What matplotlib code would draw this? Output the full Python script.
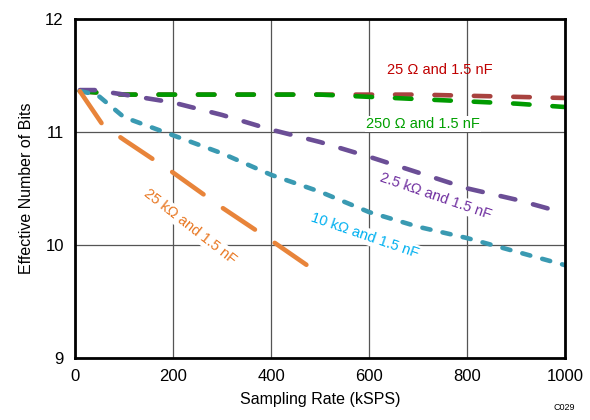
import matplotlib
matplotlib.use('Agg')
import matplotlib.pyplot as plt

plt.rcParams['font.family'] = ['Liberation Sans', 'DejaVu Sans']

# data (kSPS, ENOB)
x_red = [10, 100, 200, 300, 400, 500, 600, 700, 800, 900, 1000]
y_red = [11.36, 11.33, 11.33, 11.33, 11.33, 11.33, 11.33, 11.33, 11.32, 11.31, 11.30]

x_green = [10, 100, 200, 300, 400, 500, 600, 700, 800, 900, 1000]
y_green = [11.36, 11.33, 11.33, 11.33, 11.33, 11.33, 11.31, 11.29, 11.27, 11.25, 11.22]

x_purple = [10, 40, 100, 200, 300, 400, 500, 600, 700, 800, 900, 1000]
y_purple = [11.37, 11.37, 11.33, 11.26, 11.15, 11.02, 10.91, 10.78, 10.64, 10.50, 10.40, 10.28]

x_teal = [10, 45, 100, 200, 300, 400, 500, 600, 700, 800, 900, 1000]
y_teal = [11.36, 11.33, 11.13, 10.97, 10.81, 10.62, 10.47, 10.29, 10.16, 10.06, 9.94, 9.82]

x_orange = [10, 57, 100, 200, 300, 400, 480]
y_orange = [11.36, 11.06, 10.93, 10.64, 10.33, 10.04, 9.80]

fig = plt.figure(figsize=(5.9, 4.2), dpi=100)
ax = fig.add_axes([0.127, 0.148, 0.831, 0.807])

style = dict(lw=3.3, dash_capstyle='round', solid_capstyle='round')
ax.plot(x_red, y_red, color='#A8423F', dashes=(3.6, 5.0), zorder=3, **style)
ax.plot(x_green, y_green, color='#009A00', dashes=(3.6, 5.0), zorder=4, **style)
ax.plot(x_purple, y_purple, color='#6B4E96', dashes=(3.3, 4.0), zorder=5, **style)
ax.plot(x_teal, y_teal, color='#3A9AB2', dashes=(1.8, 2.7), zorder=6, **style)
ax.plot(x_orange, y_orange, color='#E8843A', dashes=(8.4, 5.2), zorder=7, **style)

box = dict(facecolor='white', edgecolor='none', pad=1)
ax.text(745, 11.55, '25 Ω and 1.5 nF', color='#C00000', fontsize=10.5,
        ha='center', va='center', zorder=8)
ax.text(710, 11.07, '250 Ω and 1.5 nF', color='#00A000', fontsize=10.5,
        ha='center', va='center', bbox=box, zorder=8)
ax.text(735, 10.43, '2.5 kΩ and 1.5 nF', color='#7030A0', fontsize=10.5,
        ha='center', va='center', rotation=-19, bbox=box, zorder=8)
ax.text(592, 10.08, '10 kΩ and 1.5 nF', color='#00B0F0', fontsize=10.5,
        ha='center', va='center', rotation=-19, bbox=box, zorder=8)
ax.text(235, 10.16, '25 kΩ and 1.5 nF', color='#E87722', fontsize=10.5,
        ha='center', va='center', rotation=-38, bbox=box, zorder=8)

ax.set_xlim(0, 1000)
ax.set_ylim(9, 12)
ax.set_xticks([0, 200, 400, 600, 800, 1000])
ax.set_yticks([9, 10, 11, 12])
ax.tick_params(length=0, labelsize=12, pad=8)
ax.grid(True, color='#555555', lw=0.9)
ax.set_axisbelow(True)
for s in ax.spines.values():
    s.set_linewidth(2)
    s.set_zorder(10)

ax.set_xlabel('Sampling Rate (kSPS)', fontsize=11.5, labelpad=6)
ax.set_ylabel('Effective Number of Bits', fontsize=11.5, labelpad=8)
fig.text(0.975, 0.02, 'C029', fontsize=6.5, ha='right', va='bottom')

fig.savefig('out.png', dpi=100)
